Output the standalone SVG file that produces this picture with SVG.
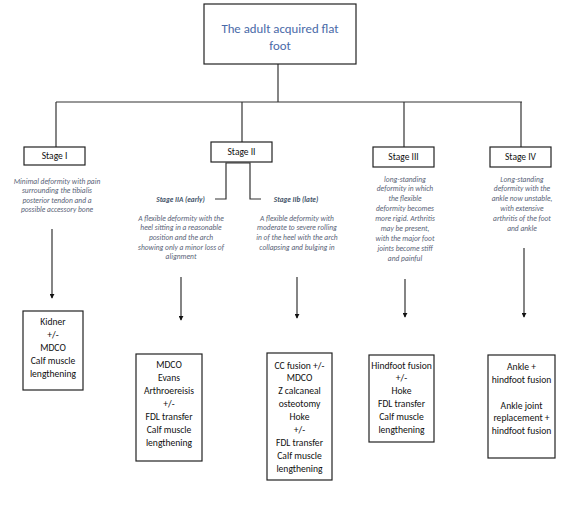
<svg xmlns="http://www.w3.org/2000/svg" width="584" height="513" viewBox="0 0 584 513">
<style>
.bg{fill:#ffffff}
.box{fill:#ffffff;stroke:#222;stroke-width:1.2}
.ln{fill:none;stroke:#333;stroke-width:1.2}
.ttl{font-family:Carlito,Lato,"Liberation Sans",sans-serif;font-size:12.8px;fill:#4a6aa8;text-anchor:middle}
.stg{font-family:Carlito,Lato,"Liberation Sans",sans-serif;font-size:9.5px;fill:#111;text-anchor:middle}
.sub{font-family:Carlito,Lato,"Liberation Sans",sans-serif;font-size:7.3px;font-style:italic;font-weight:bold;fill:#44546a;text-anchor:middle}
.dsc{font-family:Carlito,Lato,"Liberation Sans",sans-serif;font-size:7.5px;font-style:italic;fill:#5a6478;text-anchor:middle}
.tx{font-family:Carlito,Lato,"Liberation Sans",sans-serif;font-size:9.6px;fill:#111;text-anchor:middle}
</style>
<defs>
<marker id="ah" viewBox="0 0 6 6" refX="5" refY="3" markerWidth="5" markerHeight="5" orient="auto" markerUnits="userSpaceOnUse">
<path d="M0,0 L6,3 L0,6 z" fill="#111"/>
</marker>
</defs>
<rect class="bg" x="0" y="0" width="584" height="513"/>
<g id="connectors">
<line class="ln" x1="278" y1="64" x2="278" y2="102"/>
<line class="ln" x1="56" y1="102" x2="522" y2="102"/>
<line class="ln" x1="56" y1="102" x2="56" y2="147"/>
<line class="ln" x1="242" y1="102" x2="242" y2="142"/>
<line class="ln" x1="404" y1="102" x2="404" y2="147"/>
<line class="ln" x1="521" y1="102" x2="521" y2="147"/>
<polyline class="ln" points="215,199 226,199 226,163 250,163 250,199 261,199"/>
<line class="ln" x1="52" y1="229" x2="52" y2="298" marker-end="url(#ah)"/>
<line class="ln" x1="181" y1="277" x2="181" y2="320" marker-end="url(#ah)"/>
<line class="ln" x1="297" y1="277" x2="297" y2="318" marker-end="url(#ah)"/>
<line class="ln" x1="405" y1="279" x2="405" y2="317" marker-end="url(#ah)"/>
<line class="ln" x1="524" y1="248" x2="524" y2="317" marker-end="url(#ah)"/>
</g>
<g id="title">
<rect class="box" x="204" y="4" width="152" height="60"/>
<text class="ttl" x="280" y="32.5">The adult acquired flat</text>
<text class="ttl" x="280" y="49.5">foot</text>
</g>
<g id="stage1">
<rect class="box" x="24" y="147" width="61" height="18"/>
<text class="stg" x="54.5" y="159.3">Stage I</text>
</g>
<g id="stage2">
<rect class="box" x="211" y="142" width="61" height="20"/>
<text class="stg" x="241.5" y="155.3">Stage II</text>
</g>
<g id="stage3">
<rect class="box" x="373" y="147" width="61" height="20"/>
<text class="stg" x="403.5" y="160.3">Stage III</text>
</g>
<g id="stage4">
<rect class="box" x="490" y="147" width="61" height="20"/>
<text class="stg" x="520.5" y="160.3">Stage IV</text>
</g>
<g id="desc1">
<text class="dsc" x="57" y="184">Minimal deformity with pain</text>
<text class="dsc" x="57" y="193.3">surrounding the tibialis</text>
<text class="dsc" x="57" y="202.6">posterior tendon and a</text>
<text class="dsc" x="57" y="211.9">possible accessory bone</text>
</g>
<g id="stage2a">
<text class="sub" x="180.5" y="201.5">Stage IIA (early)</text>
<text class="dsc" x="181" y="220.5">A flexible deformity with the</text>
<text class="dsc" x="181" y="230.2">heel sitting in a reasonable</text>
<text class="dsc" x="181" y="239.9">position and the arch</text>
<text class="dsc" x="181" y="249.6">showing only a minor loss of</text>
<text class="dsc" x="181" y="259.3">alignment</text>
</g>
<g id="stage2b">
<text class="sub" x="296" y="201.5">Stage IIb (late)</text>
<text class="dsc" x="297" y="220.5">A flexible deformity with</text>
<text class="dsc" x="297" y="230.3">moderate to severe rolling</text>
<text class="dsc" x="297" y="240.1">in of the heel with the arch</text>
<text class="dsc" x="297" y="249.9">collapsing and bulging in</text>
</g>
<g id="desc3">
<text class="dsc" x="405" y="181.5">long-standing</text>
<text class="dsc" x="405" y="191.4">deformity in which</text>
<text class="dsc" x="405" y="201.3">the flexible</text>
<text class="dsc" x="405" y="211.2">deformity becomes</text>
<text class="dsc" x="405" y="221.1">more rigid. Arthritis</text>
<text class="dsc" x="405" y="231">may be present,</text>
<text class="dsc" x="405" y="240.9">with the major foot</text>
<text class="dsc" x="405" y="250.8">joints become stiff</text>
<text class="dsc" x="405" y="260.7">and painful</text>
</g>
<g id="desc4">
<text class="dsc" x="522" y="181.5">Long-standing</text>
<text class="dsc" x="522" y="191.4">deformity with the</text>
<text class="dsc" x="522" y="201.3">ankle now unstable,</text>
<text class="dsc" x="522" y="211.2">with extensive</text>
<text class="dsc" x="522" y="221.1">arthritis of the foot</text>
<text class="dsc" x="522" y="231">and ankle</text>
</g>
<g id="treat1">
<rect class="box" x="23" y="311" width="60" height="79"/>
<text class="tx" x="53" y="324.5">Kidner</text>
<text class="tx" x="53" y="337.5">+/-</text>
<text class="tx" x="53" y="350.5">MDCO</text>
<text class="tx" x="53" y="363.5">Calf muscle</text>
<text class="tx" x="53" y="376.5">lengthening</text>
</g>
<g id="treat2a">
<rect class="box" x="136" y="354" width="66" height="107"/>
<text class="tx" x="169" y="367.5">MDCO</text>
<text class="tx" x="169" y="380.5">Evans</text>
<text class="tx" x="169" y="393.5">Arthroereisis</text>
<text class="tx" x="169" y="406.5">+/-</text>
<text class="tx" x="169" y="419.5">FDL transfer</text>
<text class="tx" x="169" y="432.5">Calf muscle</text>
<text class="tx" x="169" y="445.5">lengthening</text>
</g>
<g id="treat2b">
<rect class="box" x="267" y="353" width="65" height="127"/>
<text class="tx" x="299.5" y="368.5">CC fusion +/-</text>
<text class="tx" x="299.5" y="381.4">MDCO</text>
<text class="tx" x="299.5" y="394.3">Z calcaneal</text>
<text class="tx" x="299.5" y="407.2">osteotomy</text>
<text class="tx" x="299.5" y="420.1">Hoke</text>
<text class="tx" x="299.5" y="433">+/-</text>
<text class="tx" x="299.5" y="445.9">FDL transfer</text>
<text class="tx" x="299.5" y="458.8">Calf muscle</text>
<text class="tx" x="299.5" y="471.7">lengthening</text>
</g>
<g id="treat3">
<rect class="box" x="369" y="355" width="65" height="87"/>
<text class="tx" x="401.5" y="368.5">Hindfoot fusion</text>
<text class="tx" x="401.5" y="381.3">+/-</text>
<text class="tx" x="401.5" y="394.1">Hoke</text>
<text class="tx" x="401.5" y="406.9">FDL transfer</text>
<text class="tx" x="401.5" y="419.7">Calf muscle</text>
<text class="tx" x="401.5" y="432.5">lengthening</text>
</g>
<g id="treat4">
<rect class="box" x="488" y="355" width="67" height="103"/>
<text class="tx" x="521.5" y="370">Ankle +</text>
<text class="tx" x="521.5" y="382.5">hindfoot fusion</text>
<text class="tx" x="521.5" y="408.5">Ankle joint</text>
<text class="tx" x="521.5" y="421">replacement +</text>
<text class="tx" x="521.5" y="433.5">hindfoot fusion</text>
</g>
</svg>
